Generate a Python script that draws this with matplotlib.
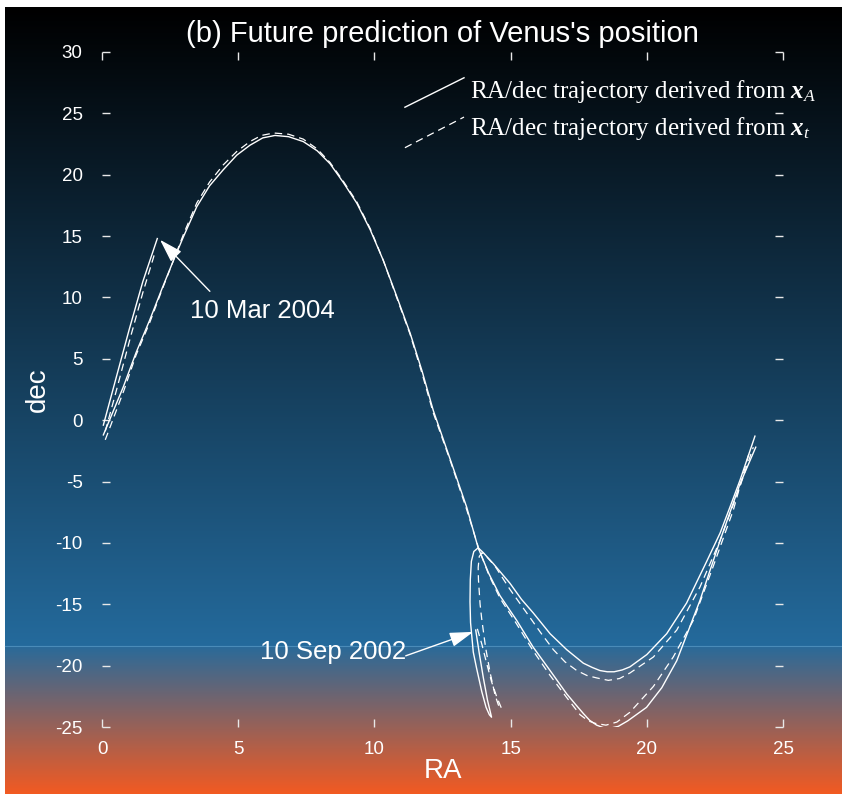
"""Venus RA/dec trajectory: prediction from x_A against x_t."""

import matplotlib
import matplotlib.pyplot as plt
import numpy as np
from matplotlib.colors import to_rgb

matplotlib.use("Agg")

plt.rcParams["font.family"] = ["Liberation Sans", "DejaVu Sans"]
plt.rcParams["axes.unicode_minus"] = False
plt.rcParams["mathtext.fontset"] = "custom"
plt.rcParams["mathtext.rm"] = "Liberation Serif"
plt.rcParams["mathtext.it"] = "Liberation Serif:italic"
plt.rcParams["mathtext.bf"] = "Liberation Serif:bold:italic"

# trajectory from x_A (solid), split where RA wraps 24h -> 0h
ra_a_loop = [13.72, 13.85, 14.0, 14.15, 14.3, 14.22, 14.1, 13.94, 13.75, 13.63, 13.53, 13.51,
             13.52, 13.56, 13.65, 13.81, 14.0, 14.37, 14.98, 15.4, 15.83, 16.45, 17.06, 17.67,
             18.0, 18.28, 18.55, 18.8, 19.1, 19.38, 20.0, 20.73, 21.46, 22.2, 22.69, 23.05,
             23.42, 23.97]
dec_a_loop = [-17.1, -19.0, -21.0, -22.8, -24.2, -24.0, -23.4, -22.1, -20.2, -18.9, -16.5, -14.8,
              -13.0, -11.5, -10.7, -10.4, -10.8, -11.7, -13.3, -14.6, -15.7, -17.4, -18.7, -19.8,
              -20.15, -20.4, -20.5, -20.5, -20.35, -20.1, -19.1, -17.4, -14.9, -11.5, -9.2, -7.1,
              -4.9, -1.3]
ra_a_arch = [0.05, 0.78, 1.25, 1.76, 2.2, 2.62, 3.0, 3.48, 3.95, 4.45, 4.95, 5.43, 5.9, 6.35,
             6.85, 7.39, 7.9, 8.37, 8.85, 9.35, 9.85, 10.33, 10.8, 11.31, 11.75, 12.16, 12.8,
             13.39, 13.81, 14.2, 14.61, 15.22, 15.83, 16.45, 17.06, 17.4, 17.67, 17.9, 18.16,
             18.4, 18.65, 18.95, 19.3, 19.99, 20.55, 21.1, 21.95, 22.69, 23.42, 24.0]
dec_a_arch = [-1.2, 2.7, 5.5, 8.2, 10.7, 13.0, 15.0, 17.4, 19.1, 20.4, 21.6, 22.4, 23.0, 23.2,
              23.1, 22.7, 21.95, 20.9, 19.4, 17.7, 15.5, 13.0, 10.2, 7.1, 4.0, 0.8, -3.3,
              -7.1, -10.4, -12.5, -14.3, -16.3, -18.5, -20.4, -22.3, -23.2, -23.9, -24.45, -24.85,
              -25.05, -25.1, -24.95, -24.5, -23.4, -21.8, -19.6, -14.7, -9.8, -5.2, -2.2]
ra_a_end = [0.05, 0.5, 1.0, 1.5, 2.03]
dec_a_end = [-0.4, 3.3, 7.4, 11.3, 14.8]

# trajectory from x_t (dashed)
ra_t_loop = [13.78, 13.95, 14.12, 14.3, 14.5, 14.67, 14.55, 14.43, 14.25, 14.08, 13.94, 13.88,
             13.82, 13.81, 13.85, 13.95, 14.15, 14.43, 14.98, 15.59, 16.1, 16.57, 17.0, 17.43,
             17.8, 18.16, 18.59, 19.0, 19.38, 20.24, 21.1, 21.95, 22.69, 23.42, 23.91]
dec_t_loop = [-17.0, -18.3, -19.8, -21.3, -22.6, -23.5, -23.2, -22.4, -20.6, -18.5, -16.2, -15.0,
              -13.0, -12.0, -11.1, -10.8, -11.2, -11.9, -13.8, -15.7, -17.3, -18.7, -19.7, -20.4,
              -20.8, -21.0, -21.2, -21.05, -20.6, -19.3, -17.1, -13.6, -9.8, -5.4, -2.2]
ra_t_arch = [0.12, 0.8, 1.25, 1.76, 2.2, 2.62, 3.0, 3.48, 3.95, 4.45, 4.95, 5.43, 5.85, 6.3,
             6.85, 7.39, 7.9, 8.37, 8.85, 9.35, 9.85, 10.33, 10.8, 11.31, 11.75, 12.16, 12.8,
             13.39, 13.85, 14.2, 14.61, 15.22, 15.83, 16.45, 17.06, 17.55, 17.85, 18.1, 18.5,
             18.9, 19.38, 20.24, 20.97, 21.71, 22.44, 23.18, 23.79]
dec_t_arch = [-1.6, 2.4, 5.3, 8.0, 10.6, 13.0, 15.2, 17.7, 19.4, 20.8, 21.9, 22.7, 23.2, 23.4,
              23.3, 22.9, 22.1, 21.0, 19.5, 17.8, 15.6, 13.0, 10.1, 7.0, 3.8, 0.6, -3.4,
              -7.3, -10.6, -12.6, -14.5, -16.6, -18.8, -20.8, -22.6, -24.0, -24.5, -24.7, -24.85,
              -24.6, -23.8, -21.7, -19.3, -16.3, -11.9, -7.3, -2.4]
ra_t_end = [0.12, 0.55, 1.05, 1.5, 1.95]
dec_t_end = [-0.9, 2.6, 6.8, 10.4, 13.7]

x_ticks = [0, 5, 10, 15, 20, 25]
y_ticks = [30, 25, 20, 15, 10, 5, 0, -5, -10, -15, -20, -25]

W, H = 842, 794
fig = plt.figure(figsize=(W / 100, H / 100), dpi=100)

# sky gradient behind everything: black -> blue, then blue -> orange near the bottom
bg = fig.add_axes([0, 0, 1, 1], zorder=-10)
rows = np.arange(H)
stops_y = [0, 8, 645, 646, 793]
stops_c = ["#000000", "#000000", "#246a9c", "#2a6a99", "#f25a22"]
rgb = np.array([to_rgb(c) for c in stops_c])
grad = np.stack([np.interp(rows, stops_y, rgb[:, k]) for k in range(3)], axis=1)
grad = np.repeat(grad[:, None, :], 2, axis=1)
bg.imshow(grad, aspect="auto", extent=[0, 1, 0, 1], interpolation="nearest")
bg.axhline(1 - 645.5 / H, xmin=5 / W, color="#4a8bb8", lw=0.8)
bg.axhspan(1 - 7 / H, 1, color="white", lw=0)
bg.axvspan(0, 5 / W, color="white", lw=0)
bg.set_xlim(0, 1)
bg.set_ylim(0, 1)
bg.axis("off")

ax = fig.add_axes([102 / W, 1 - 727 / H, (783 - 102) / W, (727 - 52) / H])
ax.patch.set_alpha(0)

solid = dict(color="white", lw=1.0, solid_joinstyle="round")
dashed = dict(color="white", lw=0.9, linestyle=(0, (6, 4)))
ax.plot(ra_a_loop, dec_a_loop, **solid)
ax.plot(ra_a_arch, dec_a_arch, **solid)
ax.plot(ra_a_end, dec_a_end, **solid)
ax.plot(ra_t_loop, dec_t_loop, **dashed)
ax.plot(ra_t_arch, dec_t_arch, **dashed)
ax.plot(ra_t_end, dec_t_end, **dashed)

ax.set_xlim(0, 25)
ax.set_ylim(-25, 30)
ax.set_xticks(x_ticks)
ax.set_yticks(y_ticks)
for s in ax.spines.values():
    s.set_visible(False)
ax.tick_params(axis="both", direction="in", length=6, width=1, colors="#e8e8e8",
               labelcolor="white", labelsize=13.5, top=True, right=True)
ax.tick_params(axis="x", pad=10)
ax.tick_params(axis="y", pad=14)

ax.set_xlabel("RA", color="white", fontsize=20, labelpad=0)
ax.set_ylabel("dec", color="white", fontsize=20, labelpad=3)
ax.set_title("(b) Future prediction of Venus's position", color="white", fontsize=21, pad=7)

# date markers
arrow = dict(arrowstyle="-|>,head_length=1.45,head_width=0.45", color="white", lw=1,
             mutation_scale=10, shrinkA=0, shrinkB=0)
ax.annotate("", xy=(13.63, -17.25), xytext=(11.15, -19.2), arrowprops=arrow)
ax.text(8.48, -18.9, "10 Sep 2002", color="white", fontsize=18.5, ha="center", va="center")
ax.annotate("", xy=(2.13, 14.7), xytext=(3.96, 10.5), arrowprops=arrow)
ax.text(5.87, 8.9, "10 Mar 2004", color="white", fontsize=18.5, ha="center", va="center")

# legend with slanted sample lines
ax.plot([11.12, 13.29], [25.5, 27.9], color="white", lw=1.0, clip_on=False)
ax.plot([11.12, 13.29], [22.2, 24.7], color="white", lw=0.9, linestyle=(0, (6, 4)), clip_on=False)
serif = ["Liberation Serif", "DejaVu Serif"]
ax.text(13.52, 26.8, r"RA/dec trajectory derived from $\mathbf{x}_A$", color="white",
        fontsize=18, family=serif, va="center")
ax.text(13.52, 23.8, r"RA/dec trajectory derived from $\mathbf{x}_t$", color="white",
        fontsize=18, family=serif, va="center")

fig.savefig("out.png", dpi=100)
